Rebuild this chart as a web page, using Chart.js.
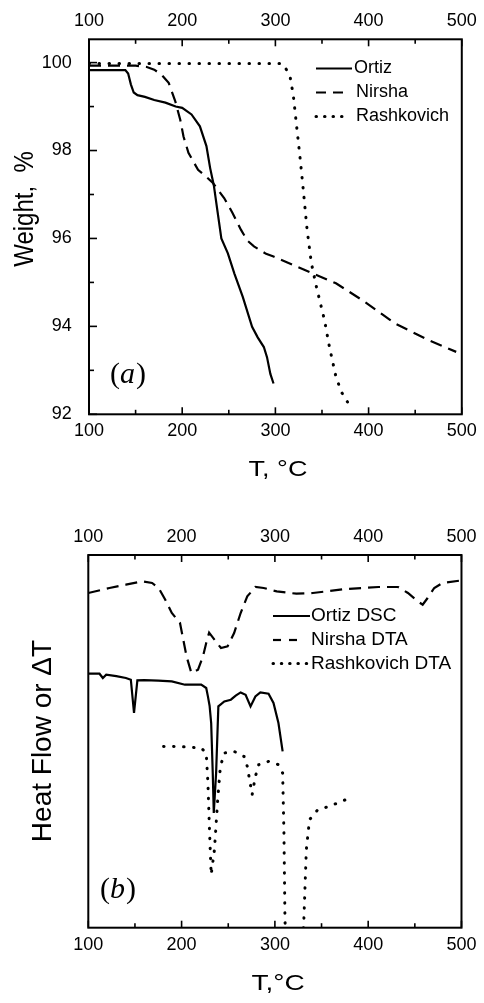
<!DOCTYPE html>
<html><head><meta charset="utf-8">
<script src="https://cdn.jsdelivr.net/npm/chart.js@4.4.1/dist/chart.umd.min.js"></script>
<style>
html,body{margin:0;padding:0;background:#fff;width:484px;height:1003px;overflow:hidden}
.box{position:absolute;left:0;width:484px}
canvas{display:block}
</style></head><body>
<div class="box" style="top:0;height:500px"><canvas id="c1" width="484" height="500"></canvas></div>
<div class="box" style="top:500px;height:503px"><canvas id="c2" width="484" height="503"></canvas></div>
<script>
// ---------- tick labels ----------
const T_TICKS = [100, 200, 300, 400, 500];
const T_MINOR = [150, 250, 350, 450];
const W_TICKS = [92, 94, 96, 98, 100];
const W_MINOR = [93, 95, 97, 99];

// ---------- (a) TGA, weight % ----------
const ORTIZ_T = [100,139,142,145,148,152,160,170,182,193,200,210,219,226,230,234,238,242,249,256,265,275,281,287.6,291,294.6,298];
const ORTIZ_W = [99.83,99.83,99.75,99.5,99.32,99.26,99.22,99.15,99.09,99.0,98.97,98.82,98.55,98.1,97.6,97.2,96.6,96.0,95.66,95.2,94.67,93.99,93.75,93.53,93.3,92.92,92.7];

const NIRSHA_T = [100,150,162,170,178,185.5,192.6,197.9,201.4,206.7,217,225,233,245,254,263,270,277,290,298,323,344,365,393,428,464,494];
const NIRSHA_W = [99.93,99.93,99.9,99.84,99.72,99.54,99.12,98.7,98.32,97.95,97.56,97.42,97.26,96.92,96.58,96.2,95.95,95.82,95.65,95.59,95.36,95.17,94.98,94.6,94.07,93.69,93.42];

const RASH_T = [100,305,309,315.7,319.3,322.8,326.3,329.9,334,338.6,344,352.7,358,365,371,377.4];
const RASH_W = [99.98,99.98,99.95,99.69,99.24,98.55,97.87,97.11,96.2,95.44,94.9,94.14,93.53,92.85,92.5,92.28];

// ---------- (b) DSC / DTA, arbitrary units ----------
const DSC_ORTIZ_T = [100,112,115.6,119.2,130,140.3,145.6,149,152.6,160,175,189.5,203.6,221,226.4,228.2,230,231.7,233.4,234.5,237,239.4,245.8,252.8,258,263.3,268.6,273.9,279.1,284.4,293.2,298.5,303.8,308.3];
const DSC_ORTIZ_V = [254,254,249.7,253,251.5,249.7,248,214.7,247.3,247.5,247,246.3,243,243,239.7,231.3,222,204.7,154.7,114.7,154.7,221.3,226.3,228,232,235.3,233,221.3,231.3,235.3,234,224.7,204.7,176.3];

const DTA_NIRSHA_T = [100,122.7,140.3,157.8,168.4,175.4,182.5,189.5,198.3,201.8,205.3,210.5,217.6,222.9,226.4,229.5,235.2,242.2,249.3,256.3,263.3,270.4,279.1,288,302,323,340.7,375.8,411,432,442.6,453.2,458.4,463.7,470.8,479.5,500];
const DTA_NIRSHA_V = [334.7,339.7,343,346.3,344.7,339.7,328,314.7,304.7,288,271.3,254.7,258,271.3,284.7,295,288,279.7,281.3,294.7,314.7,331.3,340.7,339.7,336.3,334,334.7,338.7,340.7,340.7,334.7,326.3,323,329.7,339.7,344.7,347.3];

const DTA_RASH_T = [180.7,200,221,226.4,228.2,230,231.7,235.2,238.7,241.6,245.8,256.3,266.9,270.4,275.6,279.1,282.7,293.2,303.8,308.3,309.7,310.8,312.5,329,330.8,333.7,337.1,346,358.2,377.6];
const DTA_RASH_V = [181.3,181,179.7,174.7,144.7,94.7,53,78,128,161.3,174.7,176.3,171.3,161.3,133,151.3,163,166.3,163,154.7,94.7,8,-30,-30,1.3,78,108,118,121.3,128.7];

const LEGEND_A = ['Ortiz', 'Nirsha', 'Rashkovich'];
const LEGEND_B = ['Ortiz DSC', 'Nirsha DTA', 'Rashkovich DTA'];

const SANS = '"Liberation Sans", Arial, sans-serif';
const SERIF = '"Liberation Serif", "Times New Roman", serif';
const pts = (xs, ys) => xs.map((x, i) => ({x: x, y: ys[i]}));

const STYLE_SOLID = {borderDash: [], borderWidth: 2.2, borderCapStyle: 'butt'};
const STYLE_DASH = {borderDash: [12, 7], borderWidth: 2.2, borderCapStyle: 'butt'};
const STYLE_DOT = {borderDash: [0.5, 9.5], borderWidth: 3, borderCapStyle: 'round'};

function ds(label, xs, ys, st) {
  return Object.assign({label: label, data: pts(xs, ys), borderColor: '#000', backgroundColor: '#000',
    pointRadius: 0, fill: false, tension: 0, clip: 0}, st);
}

function txt(ctx, s, x, y, font, o) {
  o = o || {};
  ctx.save();
  ctx.translate(x, y);
  if (o.rot) ctx.rotate(o.rot);
  ctx.scale(o.sx || 1, o.sy || 1);
  ctx.font = font;
  ctx.textAlign = o.align || 'center';
  ctx.textBaseline = o.base || 'middle';
  ctx.fillStyle = '#000';
  ctx.fillText(s, 0, 0);
  ctx.restore();
}

function seg(ctx, x1, y1, x2, y2) { ctx.beginPath(); ctx.moveTo(x1, y1); ctx.lineTo(x2, y2); ctx.stroke(); }

function panelLabel(ctx, letter, x, y, size) {
  ctx.save();
  ctx.fillStyle = '#000';
  ctx.textBaseline = 'middle';
  ctx.textAlign = 'left';
  const up = size + 'px ' + SERIF, it = 'italic ' + size + 'px ' + SERIF;
  ctx.font = up; ctx.fillText('(', x, y); let w = ctx.measureText('(').width;
  ctx.font = it; ctx.fillText(letter, x + w, y); w += ctx.measureText(letter).width + 1;
  ctx.font = up; ctx.fillText(')', x + w, y);
  ctx.restore();
}

function decoPlugin(cfg) {
  return {
    id: 'deco',
    afterDatasetsDraw(chart) {
      const ctx = chart.ctx, a = chart.chartArea, sx = chart.scales.x, sy = chart.scales.y;
      ctx.save();
      ctx.strokeStyle = '#000';
      ctx.setLineDash([]);
      ctx.lineWidth = 1.6;
      [[T_TICKS, 7], [T_MINOR, 4.5]].forEach(([vals, len]) => vals.forEach(v => {
        const p = sx.getPixelForValue(v);
        seg(ctx, p, a.top, p, a.top + len);
        seg(ctx, p, a.bottom, p, a.bottom - len);
      }));
      if (cfg.yTicks) {
        [[W_TICKS, 8], [W_MINOR, 5]].forEach(([vals, len]) => vals.forEach(v => {
          const p = sy.getPixelForValue(v);
          seg(ctx, a.left, p, a.left + len, p);
        }));
      }
      ctx.lineWidth = 2;
      ctx.strokeRect(a.left, a.top, a.right - a.left, a.bottom - a.top);
      const L = cfg.legend;
      chart.data.datasets.forEach((d, i) => {
        const y = L.ys[i];
        ctx.save();
        ctx.lineWidth = d.borderWidth;
        ctx.lineCap = d.borderCapStyle;
        ctx.setLineDash(L.dash[i]);
        seg(ctx, L.x1, y, L.x2[i], y);
        ctx.restore();
        txt(ctx, L.labels[i], L.tx[i], y, L.size + 'px ' + SANS, {align: 'left'});
      });
      ctx.restore();
      txt(ctx, cfg.xTitle.text, cfg.xTitle.x, cfg.xTitle.y, cfg.xTitle.size + 'px ' + SANS, {sy: cfg.xTitle.sy});
      txt(ctx, cfg.yTitle.text, cfg.yTitle.x, cfg.yTitle.y, cfg.yTitle.size + 'px ' + SANS, {rot: -Math.PI / 2, sy: cfg.yTitle.sy});
      panelLabel(ctx, cfg.panel.letter, cfg.panel.x, cfg.panel.y, cfg.panel.size);
    }
  };
}

function xScale(pos, size, pad) {
  return {
    type: 'linear', position: pos, min: 100, max: 500,
    afterBuildTicks: s => { s.ticks = T_TICKS.map(v => ({value: v})); },
    afterFit: s => { s.height = size; },
    grid: {display: false, drawTicks: false},
    border: {display: false},
    ticks: {color: '#000', font: {family: SANS, size: 18}, padding: pad, maxRotation: 0, autoSkip: false}
  };
}

function baseOptions(scales, padRight) {
  return {
    responsive: false, animation: false, events: [],
    layout: {padding: {left: 0, right: padRight, top: 0, bottom: 0}},
    plugins: {legend: {display: false}, tooltip: {enabled: false}, title: {display: false}},
    scales: scales
  };
}

new Chart(document.getElementById('c1'), {
  type: 'line',
  data: {datasets: [
    ds(LEGEND_A[0], ORTIZ_T, ORTIZ_W, STYLE_SOLID),
    ds(LEGEND_A[1], NIRSHA_T, NIRSHA_W, STYLE_DASH),
    ds(LEGEND_A[2], RASH_T, RASH_W, STYLE_DOT)
  ]},
  options: baseOptions({
    x: xScale('bottom', 85.7, 6.2),
    x2: xScale('top', 39.3, 7.2),
    y: {
      type: 'linear', position: 'left', min: 92, max: 100.53,
      afterBuildTicks: s => { s.ticks = W_TICKS.map(v => ({value: v})); },
      afterFit: s => { s.width = 89; },
      grid: {display: false, drawTicks: false},
      border: {display: false},
      ticks: {color: '#000', font: {family: SANS, size: 18}, padding: 17.3}
    }
  }, 16.3),
  plugins: [decoPlugin({
    yTicks: true,
    legend: {x1: 316, x2: [352, 343, 350], tx: [354, 356, 356], ys: [68.5, 92.5, 116.5], size: 18,
             labels: LEGEND_A, dash: [[], [10, 7], [0.5, 8]]},
    xTitle: {text: 'T, \u00B0C', x: 278, y: 470.5, size: 27, sy: 0.8},
    yTitle: {text: 'Weight,  %', x: 25, y: 209, size: 24, sy: 1.15},
    panel: {letter: 'a', x: 110, y: 375.5, size: 30}
  })]
});

new Chart(document.getElementById('c2'), {
  type: 'line',
  data: {datasets: [
    ds(LEGEND_B[0], DSC_ORTIZ_T, DSC_ORTIZ_V, STYLE_SOLID),
    ds(LEGEND_B[1], DTA_NIRSHA_T, DTA_NIRSHA_V, STYLE_DASH),
    ds(LEGEND_B[2], DTA_RASH_T, DTA_RASH_V, STYLE_DOT)
  ]},
  options: baseOptions({
    x: xScale('bottom', 75.3, 6.5),
    x2: xScale('top', 55, 7.5),
    y: {
      type: 'linear', position: 'left', min: 0, max: 372.7,
      afterFit: s => { s.width = 88.3; },
      grid: {display: false, drawTicks: false},
      border: {display: false},
      ticks: {display: false}
    }
  }, 16.3),
  plugins: [decoPlugin({
    yTicks: false,
    legend: {x1: 273, x2: [310, 298, 310], tx: [311, 311, 311], ys: [116, 140, 163.5], size: 19,
             labels: LEGEND_B, dash: [[], [8, 8], [0.5, 7.8]]},
    xTitle: {text: 'T,\u00B0C', x: 278, y: 484, size: 28, sy: 0.76},
    yTitle: {text: 'Heat Flow or \u0394T', x: 43, y: 241, size: 28, sy: 1},
    panel: {letter: 'b', x: 100, y: 390, size: 30}
  })]
});
</script>
</body></html>
